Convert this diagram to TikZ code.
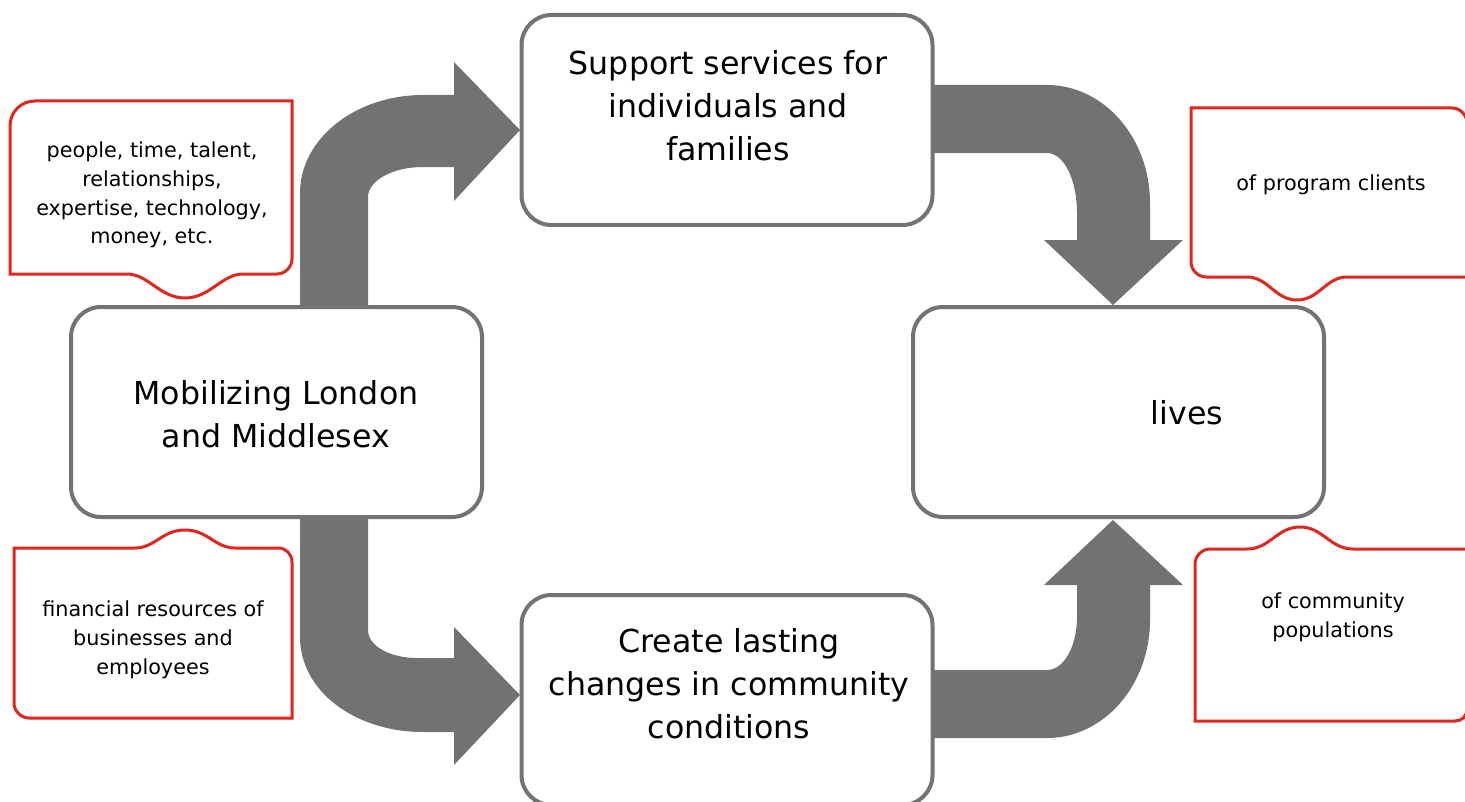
\documentclass[tikz,border=0pt]{standalone}
\usepackage{fontspec}
\setmainfont{DejaVu Sans}
\definecolor{arrowgray}{HTML}{717372}
\definecolor{boxgray}{HTML}{737373}
\definecolor{calloutred}{HTML}{E0261E}
\tikzset{
  box/.style={draw=boxgray, line width=0.4mm, fill=white, rounded corners=3mm,
    minimum width=41.1mm, minimum height=21mm},
  bigtext/.style={align=center, font=\fontsize{9}{12.2}\selectfont},
  smalltext/.style={align=center, font=\fontsize{5.9}{8.2}\selectfont},
  callout/.style={draw=calloutred, line width=0.3mm, fill=white},
  fatarrow/.style={fill=arrowgray}
}
\begin{document}
\begin{tikzpicture}[x=0.1mm,y=0.1mm]
\useasboundingbox (0,0) rectangle (1465,801);
% red callouts
\draw[callout] (10,527) -- (10,675) .. controls (10,689) and (21,700) .. (35,700) -- (292,700)
  -- (292,542) .. controls (292,534) and (285,527) .. (277,527) -- (243,527)
  .. controls (222,527) and (210,503) .. (185,503) .. controls (160,503) and (148,527) .. (127,527) -- cycle;
\draw[callout] (14,253) -- (135,253) .. controls (155,253) and (162,271) .. (185,271)
  .. controls (208,271) and (215,253) .. (235,253) -- (278,253) .. controls (286,253) and (292,247) .. (292,239)
  -- (292,83) -- (29,83) .. controls (21,83) and (14,90) .. (14,98) -- cycle;
\draw[callout] (1191,693) -- (1191,539) .. controls (1191,531) and (1198,524) .. (1206,524) -- (1247,524)
  .. controls (1268,524) and (1275,501) .. (1297,501) .. controls (1319,501) and (1326,524) .. (1347,524)
  -- (1467,524) -- (1467,678) .. controls (1467,686) and (1460,693) .. (1452,693) -- cycle;
\draw[callout] (1195,80) -- (1195,237) .. controls (1195,245) and (1202,252) .. (1210,252) -- (1247,252)
  .. controls (1270,252) and (1277,274) .. (1300,274) .. controls (1323,274) and (1330,252) .. (1353,252)
  -- (1467,252) -- (1467,92) .. controls (1467,85) and (1462,80) .. (1455,80) -- cycle;
% fat arrows
\fill[fatarrow] (300,480) -- (300,608) .. controls (300,662) and (355,706) .. (423,706) -- (454,706)
  -- (454,739) -- (520,671) -- (454,600) -- (454,634) -- (423,634)
  .. controls (392,634) and (368,620) .. (368,604) -- (368,480) -- cycle;
\fill[fatarrow] (300,300) -- (300,164) .. controls (300,110) and (355,69) .. (423,69) -- (454,69)
  -- (454,36) -- (520,106) -- (454,174) -- (454,143) -- (417,143)
  .. controls (390,143) and (368,155) .. (368,171) -- (368,300) -- cycle;
\fill[fatarrow] (920,716) -- (1047,716) .. controls (1104,716) and (1150,663) .. (1150,598) -- (1150,561)
  -- (1183,561) -- (1113,496) -- (1044,561) -- (1077,561) -- (1077,588)
  .. controls (1077,621) and (1064,648) .. (1047,648) -- (920,648) -- cycle;
\fill[fatarrow] (920,131) -- (1047,131) .. controls (1064,131) and (1077,155) .. (1077,184) -- (1077,216)
  -- (1044,216) -- (1113,281) -- (1183,216) -- (1150,216) -- (1150,181)
  .. controls (1150,116) and (1104,63) .. (1047,63) -- (920,63) -- cycle;
% boxes
\node[box] (mob) at (276.5,389) {};
\node[box] (sup) at (727,681) {};
\node[box] (liv) at (1118.5,389) {};
\node[box] (cre) at (727,101) {};
\node[bigtext] (mobtxt) at (276,387) {Mobilizing London\\and Middlesex};
\node[bigtext] (suptxt) at (728,695) {Support services for\\individuals and\\families};
\node[bigtext] (cretxt) at (729,117) {Create lasting\\changes in community\\conditions};
\node[bigtext] (livtxt) at (1187,388) {lives};
% callout texts
\node[smalltext] (restxt) at (152,606) {people, time, talent,\\relationships,\\expertise, technology,\\money, etc.};
\node[smalltext] (fintxt) at (153,161) {financial resources of\\businesses and\\employees};
\node[smalltext] (clitxt) at (1331,616) {of program clients};
\node[smalltext] (poptxt) at (1333,184) {of community\\populations};
\end{tikzpicture}
\end{document}
